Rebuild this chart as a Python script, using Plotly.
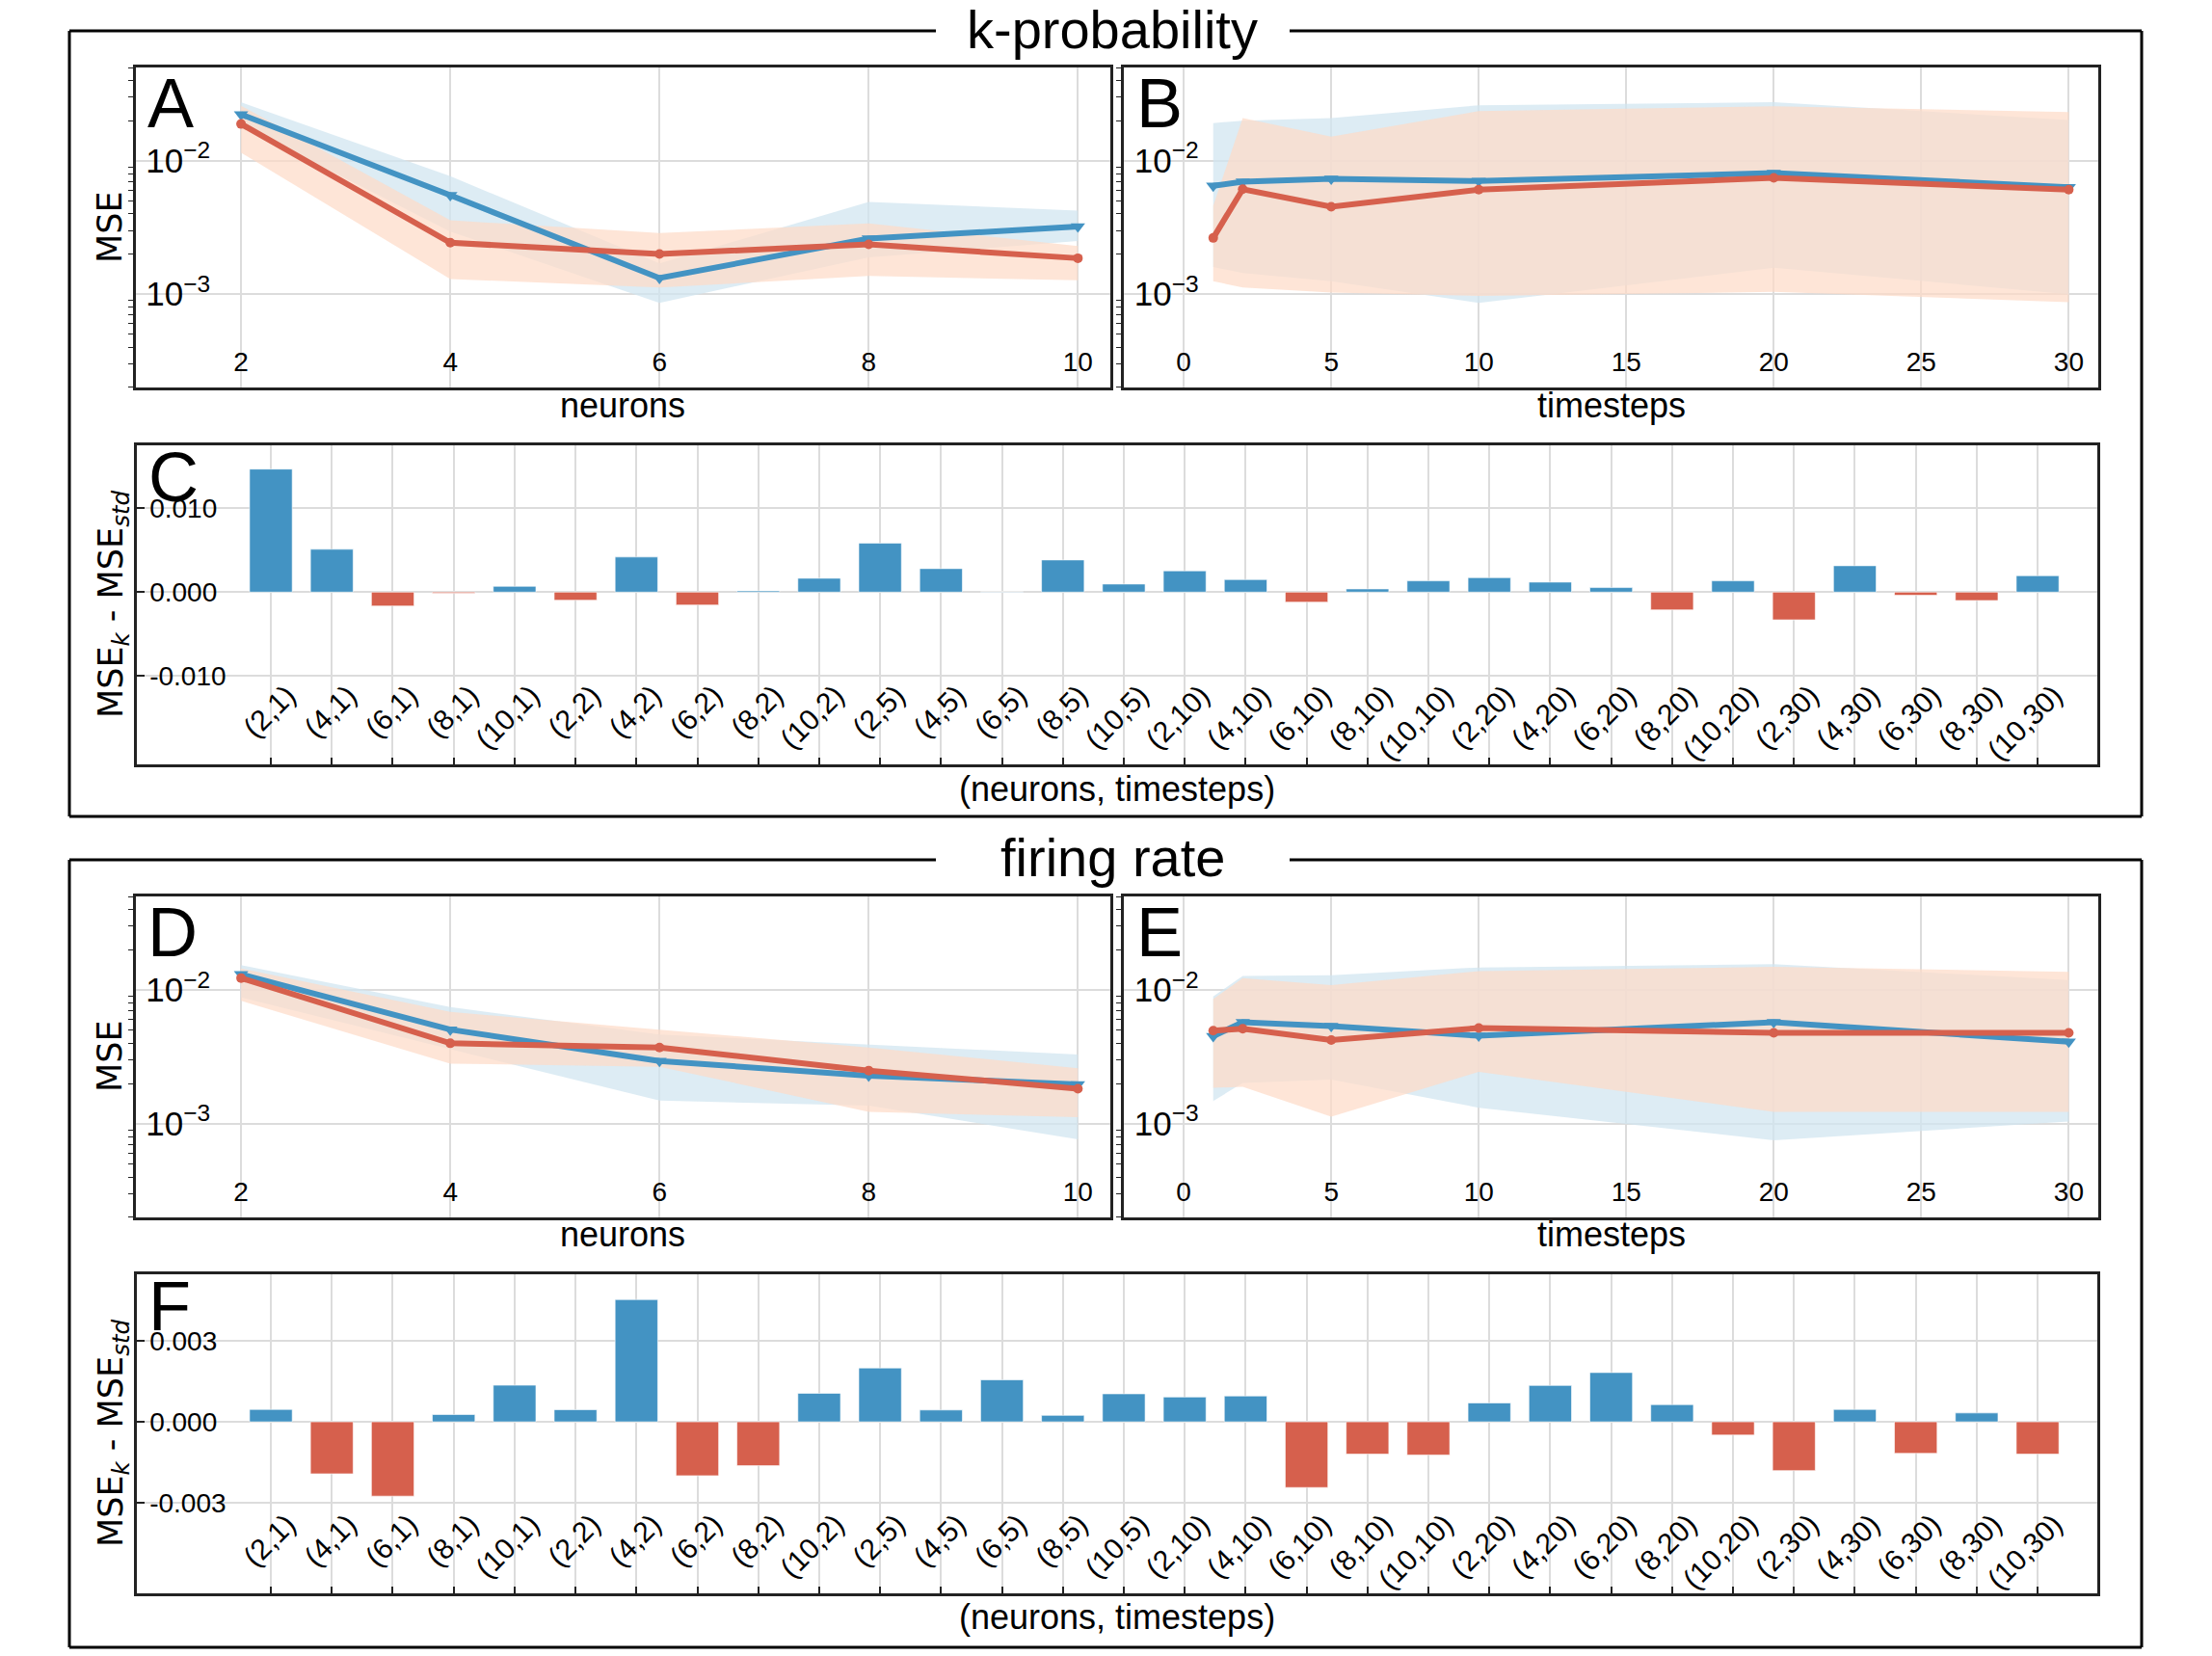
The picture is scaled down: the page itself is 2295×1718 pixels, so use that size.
import plotly.graph_objects as go

W, H = 2295, 1718

# ---------------- data ----------------
neurons = [2, 4, 6, 8, 10]
timesteps = [1, 2, 5, 10, 20, 30]

# Panel A (k-probability, vs neurons)
a_blue_mean = [0.0223, 0.00552, 0.00132, 0.00261, 0.00321]
a_blue_hi = [0.0275, 0.00766, 0.00170, 0.00492, 0.00423]
a_blue_lo = [0.0184, 0.00295, 0.00086, 0.00189, 0.00250]
a_red_mean = [0.0189, 0.00243, 0.00200, 0.00236, 0.00186]
a_red_hi = [0.0259, 0.00358, 0.00287, 0.00339, 0.00230]
a_red_lo = [0.0115, 0.00130, 0.00112, 0.00137, 0.00127]

# Panel B (k-probability, vs timesteps)
b_blue_mean = [0.00649, 0.00697, 0.00732, 0.00705, 0.00810, 0.00634]
b_blue_hi = [0.0192, 0.0200, 0.0209, 0.0261, 0.0275, 0.0202]
b_blue_lo = [0.00160, 0.00144, 0.00125, 0.00086, 0.00158, 0.00100]
b_red_mean = [0.00264, 0.00613, 0.00452, 0.00607, 0.00745, 0.00607]
b_red_hi = [0.0046, 0.0209, 0.0152, 0.0236, 0.0257, 0.0232]
b_red_lo = [0.00125, 0.00112, 0.00103, 0.00097, 0.00104, 0.00087]

# Panel D (firing rate, vs neurons)
d_blue_mean = [0.0131, 0.00506, 0.00295, 0.00229, 0.00197]
d_blue_hi = [0.01535, 0.00745, 0.00465, 0.00394, 0.00330]
d_blue_lo = [0.0088, 0.00362, 0.00149, 0.00137, 0.000766]
d_red_mean = [0.0123, 0.00400, 0.00372, 0.00250, 0.00183]
d_red_hi = [0.0145, 0.00686, 0.00506, 0.00372, 0.00260]
d_red_lo = [0.0083, 0.00282, 0.00267, 0.00123, 0.00112]

# Panel E (firing rate, vs timesteps)
e_blue_mean = [0.00452, 0.00574, 0.00537, 0.00455, 0.00574, 0.00411]
e_blue_hi = [0.00895, 0.01277, 0.0129, 0.01476, 0.0156, 0.0119]
e_blue_lo = [0.00148, 0.00202, 0.00214, 0.00132, 0.000754, 0.00104]
e_red_mean = [0.00497, 0.00514, 0.00423, 0.00520, 0.00479, 0.00479]
e_red_hi = [0.00857, 0.01227, 0.01087, 0.01387, 0.0149, 0.0137]
e_red_lo = [0.00186, 0.00189, 0.00113, 0.00245, 0.00123, 0.00123]

# Panels C and F: (neurons, timesteps) combos
combos = ["(2,1)", "(4,1)", "(6,1)", "(8,1)", "(10,1)",
          "(2,2)", "(4,2)", "(6,2)", "(8,2)", "(10,2)",
          "(2,5)", "(4,5)", "(6,5)", "(8,5)", "(10,5)",
          "(2,10)", "(4,10)", "(6,10)", "(8,10)", "(10,10)",
          "(2,20)", "(4,20)", "(6,20)", "(8,20)", "(10,20)",
          "(2,30)", "(4,30)", "(6,30)", "(8,30)", "(10,30)"]
c_diff = [0.01464, 0.00510, -0.00165, -0.00015, 0.00069,
          -0.00096, 0.00418, -0.00153, 0.00015, 0.00165,
          0.00582, 0.00280, 0.00004, 0.00383, 0.00096,
          0.00253, 0.00149, -0.00119, 0.00038, 0.00134,
          0.00172, 0.00119, 0.00054, -0.00211, 0.00134,
          -0.00330, 0.00314, -0.00038, -0.00100, 0.00195]
f_diff = [0.00046, -0.00193, -0.00276, 0.00027, 0.00136,
          0.00045, 0.00454, -0.00200, -0.00163, 0.00106,
          0.00200, 0.00044, 0.00156, 0.00024, 0.00104,
          0.00092, 0.00096, -0.00244, -0.00120, -0.00123,
          0.00070, 0.00135, 0.00183, 0.00064, -0.00049,
          -0.00181, 0.00046, -0.00117, 0.00033, -0.00120]

c_ticks = [-0.010, 0.0, 0.010]
c_ticktext = ["-0.010", "0.000", "0.010"]
f_ticks = [-0.003, 0.0, 0.003]
f_ticktext = ["-0.003", "0.000", "0.003"]

# ---------------- styles ----------------
BLUE = "#4393c3"
RED = "#d6604d"
BLUE_BAND = "rgba(209,229,240,0.75)"
RED_BAND = "rgba(253,219,199,0.72)"
GRID = "#dcdcdc"
FRAME = "#222222"
TICKFONT = dict(family="Liberation Sans, Arial", size=28, color="black")
CATFONT = dict(family="Liberation Sans, Arial", size=30, color="black")
LABELFONT = dict(family="Liberation Sans, Arial", size=36, color="black")
YLABELFONT = dict(family="DejaVu Sans", size=35, color="black")


def dom_x(x0, x1):
    return [x0 / W, x1 / W]


def dom_y(y0, y1):
    return [1 - y1 / H, 1 - y0 / H]


fig = go.Figure()

line_panels = [
    (1, neurons, a_blue_mean, a_blue_hi, a_blue_lo, a_red_mean, a_red_hi, a_red_lo),
    (2, timesteps, b_blue_mean, b_blue_hi, b_blue_lo, b_red_mean, b_red_hi, b_red_lo),
    (4, neurons, d_blue_mean, d_blue_hi, d_blue_lo, d_red_mean, d_red_hi, d_red_lo),
    (5, timesteps, e_blue_mean, e_blue_hi, e_blue_lo, e_red_mean, e_red_hi, e_red_lo),
]

for idx, xs, bm, bh, bl, rm, rh, rl in line_panels:
    xa = "x" if idx == 1 else f"x{idx}"
    ya = "y" if idx == 1 else f"y{idx}"
    fig.add_trace(go.Scatter(x=list(xs) + list(xs)[::-1], y=list(bh) + list(bl)[::-1],
                             fill="toself", fillcolor=BLUE_BAND, line=dict(width=0),
                             mode="lines", hoverinfo="skip", showlegend=False,
                             xaxis=xa, yaxis=ya))
    fig.add_trace(go.Scatter(x=list(xs) + list(xs)[::-1], y=list(rh) + list(rl)[::-1],
                             fill="toself", fillcolor=RED_BAND, line=dict(width=0),
                             mode="lines", hoverinfo="skip", showlegend=False,
                             xaxis=xa, yaxis=ya))
    fig.add_trace(go.Scatter(x=xs, y=bm, mode="lines+markers",
                             line=dict(color=BLUE, width=6),
                             marker=dict(symbol="triangle-down", size=13, color=BLUE),
                             showlegend=False, xaxis=xa, yaxis=ya))
    fig.add_trace(go.Scatter(x=xs, y=rm, mode="lines+markers",
                             line=dict(color=RED, width=6),
                             marker=dict(symbol="circle", size=10, color=RED),
                             showlegend=False, xaxis=xa, yaxis=ya))

for idx, vals in [(3, c_diff), (6, f_diff)]:
    fig.add_trace(go.Bar(x=combos, y=vals, width=0.7,
                         marker=dict(color=[BLUE if v >= 0 else RED for v in vals],
                                     line=dict(color="rgba(255,255,255,0.6)", width=1)),
                         showlegend=False, xaxis=f"x{idx}", yaxis=f"y{idx}"))

common_frame = dict(showline=True, mirror=True, linecolor=FRAME, linewidth=2.5,
                    showgrid=True, gridcolor=GRID, gridwidth=1.5, zeroline=False,
                    tickfont=TICKFONT)

geom = {
    1: ((140.5, 1152), (70, 402)),
    2: ((1166, 2177), (70, 402)),
    3: ((142, 2176), (462, 793)),
    4: ((140.5, 1152), (930, 1263)),
    5: ((1166, 2177), (930, 1263)),
    6: ((142, 2176), (1322, 1653)),
}

layout = dict(width=W, height=H, margin=dict(l=0, r=0, t=0, b=0),
              paper_bgcolor="white", plot_bgcolor="white", bargap=0.3)

for idx, ((x0, x1), (y0, y1)) in geom.items():
    xk = "xaxis" if idx == 1 else f"xaxis{idx}"
    yk = "yaxis" if idx == 1 else f"yaxis{idx}"
    xa = "x" if idx == 1 else f"x{idx}"
    ya = "y" if idx == 1 else f"y{idx}"
    xax = dict(common_frame, domain=dom_x(x0, x1), anchor=ya)
    yax = dict(common_frame, domain=dom_y(y0, y1), anchor=xa)
    if idx in (1, 4):
        xax.update(range=[0.99, 10.31], dtick=2, tick0=0, ticks="",
                   ticklabelposition="outside", ticklabelstandoff=-53)
    if idx in (2, 5):
        xax.update(range=[-2.03, 31.0], dtick=5, tick0=0, ticks="",
                   ticklabelposition="outside", ticklabelstandoff=-53)
    if idx in (1, 2, 4, 5):
        yax.update(type="log", range=[-3.70, -1.30], dtick=1,
                   exponentformat="power", ticklabelposition="outside",
                   ticks="", ticklabelstandoff=-86,
                   minor=dict(ticks="outside", ticklen=5, tickcolor=FRAME,
                              dtick="D1", showgrid=False))
    if idx in (3, 6):
        xax.update(type="category", range=[-2.2, 29.98], tickangle=-45,
                   ticklabelposition="outside", ticks="inside", ticklen=7,
                   tickcolor=FRAME, tickwidth=1.5, tickfont=CATFONT,
                   ticklabelstandoff=-104, ticklabelshift=17)
        tv, tt = (c_ticks, c_ticktext) if idx == 3 else (f_ticks, f_ticktext)
        rng = [-0.0205, 0.01747] if idx == 3 else [-0.00637, 0.00548]
        yax.update(range=rng, tickvals=tv, ticktext=tt, ticklabelposition="inside",
                   ticks="inside", ticklen=8, tickcolor=FRAME, tickwidth=1.5,
                   ticklabelstandoff=8)
    layout[xk] = xax
    layout[yk] = yax

fig.update_layout(**layout)


def px(x):
    return x / W


def py(y):
    return 1 - y / H


ann = []


def add_text(text, x, y, font, xanchor="center", yanchor="middle", angle=0):
    ann.append(dict(text=text, x=px(x), y=py(y), xref="paper", yref="paper",
                    xanchor=xanchor, yanchor=yanchor, showarrow=False,
                    font=font, textangle=angle))


TITLEFONT = dict(family="Liberation Sans, Arial", size=56, color="black")
LETTERFONT = dict(family="Liberation Sans, Arial", size=72, color="black")

add_text("k-probability", 1154, 31, TITLEFONT)
add_text("firing rate", 1154, 890, TITLEFONT)

for letter, (x, y) in {"A": (151, 107), "B": (1177, 107), "C": (152, 495),
                       "D": (151, 967), "E": (1177, 967), "F": (152, 1355)}.items():
    add_text(letter, x, y, LETTERFONT, xanchor="left")

add_text("neurons", 646, 420, LABELFONT)
add_text("timesteps", 1672, 420, LABELFONT)
add_text("(neurons, timesteps)", 1159, 818, LABELFONT)
add_text("neurons", 646, 1280, LABELFONT)
add_text("timesteps", 1672, 1280, LABELFONT)
add_text("(neurons, timesteps)", 1159, 1677, LABELFONT)

add_text("MSE", 114, 236, YLABELFONT, angle=-90)
add_text("MSE", 114, 1096, YLABELFONT, angle=-90)
ylab = "MSE<sub><i>k</i></sub> - MSE<sub><i>std</i></sub>"
add_text(ylab, 117, 627, YLABELFONT, angle=-90)
add_text(ylab, 117, 1487, YLABELFONT, angle=-90)

shapes = []


def seg(x0, y0, x1, y1, w=3):
    shapes.append(dict(type="line", xref="paper", yref="paper",
                       x0=px(x0), y0=py(y0), x1=px(x1), y1=py(y1),
                       line=dict(color="black", width=w)))


for top, bottom in [(32, 847), (892, 1709)]:
    seg(72, top, 971, top)
    seg(1338, top, 2222, top)
    seg(72, top, 72, bottom)
    seg(2222, top, 2222, bottom)
    seg(72, bottom, 2222, bottom)

fig.update_layout(annotations=ann, shapes=shapes)

fig.write_html("out.html", config={"displayModeBar": False},
               post_script="document.body.style.margin='0px';")
